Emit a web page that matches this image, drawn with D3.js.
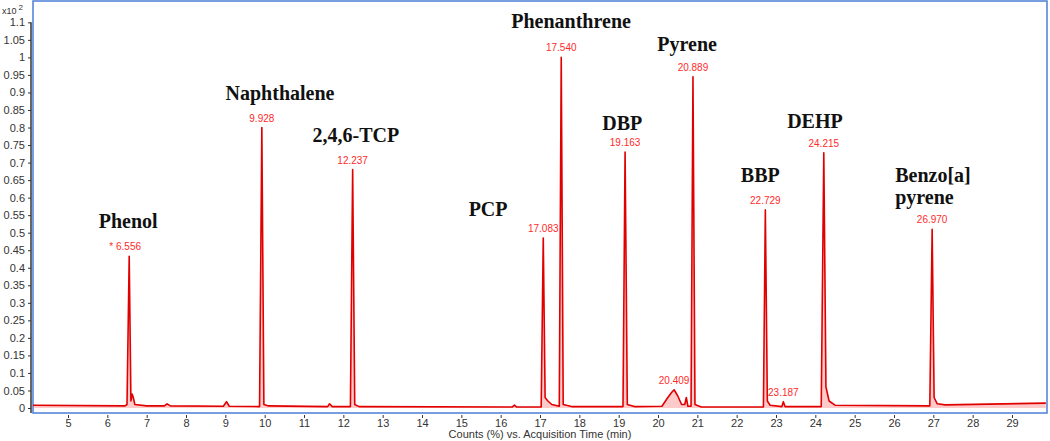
<!DOCTYPE html>
<html>
<head>
<meta charset="utf-8">
<script src="https://cdn.jsdelivr.net/npm/d3@7"></script>
<style>
  body { margin: 0; background: #fff; }
  svg { display: block; }
</style>
</head>
<body>
<div id="chart"></div>
<script>
// --- datos del cromatograma ---
const times = [
  4.11, 6.45, 6.50, 6.556, 6.60, 6.63, 6.66, 6.70, 7.00, 7.45, 7.52, 7.60,
  8.95, 9.03, 9.10, 9.87, 9.928, 9.98, 10.10, 11.60, 11.65, 11.72,
  12.18, 12.237, 12.29, 12.40, 16.30, 16.35, 16.40,
  17.03, 17.083, 17.13, 17.20, 17.30, 17.49, 17.540, 17.59, 17.80,
  19.11, 19.163, 19.22, 19.40, 20.10, 20.25, 20.35, 20.409, 20.50, 20.60,
  20.68, 20.72, 20.76, 20.84, 20.889, 20.94, 21.10,
  22.68, 22.729, 22.78, 22.85, 23.15, 23.187, 23.23,
  24.15, 24.215, 24.27, 24.35, 24.50, 26.91, 26.970, 27.02, 27.10, 27.30, 29.86
];
const counts = [
  0.008, 0.006, 0.010, 0.433, 0.020, 0.040, 0.030, 0.010, 0.006, 0.006, 0.012, 0.006,
  0.005, 0.018, 0.005, 0.004, 0.800, 0.010, 0.006, 0.004, 0.012, 0.004,
  0.004, 0.680, 0.010, 0.004, 0.003, 0.008, 0.003,
  0.003, 0.485, 0.030, 0.020, 0.010, 0.005, 1.000, 0.010, 0.004,
  0.004, 0.730, 0.010, 0.004, 0.005, 0.030, 0.045, 0.052, 0.035, 0.010,
  0.010, 0.030, 0.005, 0.005, 0.945, 0.010, 0.003,
  0.003, 0.565, 0.020, 0.008, 0.004, 0.018, 0.004,
  0.004, 0.728, 0.060, 0.020, 0.008, 0.006, 0.510, 0.030, 0.012, 0.009, 0.014
];

// etiquetas de tiempo de retención (rojo)
const rtLabels = ["* 6.556", "9.928", "12.237", "17.083", "17.540", "19.163", "20.409", "20.889", "22.729", "23.187", "24.215", "26.970"];
const rtTimes  = [6.556, 9.928, 12.237, 17.083, 17.540, 19.163, 20.409, 20.889, 22.729, 23.187, 24.215, 26.970];
const rtHeights = [0.433, 0.800, 0.680, 0.485, 1.000, 0.730, 0.052, 0.945, 0.565, 0.018, 0.728, 0.510];

// nombres de compuestos (los dos últimos alineados a la izquierda)
const compounds = ["Phenol", "Naphthalene", "2,4,6-TCP", "PCP", "Phenanthrene", "Pyrene", "DBP", "BBP", "DEHP", "Benzo[a]", "pyrene"];
const compoundT = [6.53, 10.39, 12.32, 15.68, 17.79, 20.74, 19.09, 22.6, 23.99, 26.03, 26.03];
const compoundV = [0.513, 0.878, 0.759, 0.548, 1.084, 1.018, 0.793, 0.645, 0.799, 0.645, 0.583];

const xTicks = d3.range(5, 30);
const yTicks = d3.range(0, 1.1001, 0.05).map(v => +v.toFixed(2));

const width = 1050, height = 441;
const box = { left: 33, right: 1047, top: 1, bottom: 413 };

const x = d3.scaleLinear().domain([5, 29]).range([68, 1012]);
const y = d3.scaleLinear().domain([0, 1]).range([408, 57.4]);

const svg = d3.select("#chart").append("svg")
  .attr("width", width)
  .attr("height", height);

// marco azul
svg.append("rect")
  .attr("x", box.left).attr("y", box.top)
  .attr("width", box.right - box.left).attr("height", box.bottom - box.top)
  .attr("fill", "none")
  .attr("stroke", "#4a7fd6")
  .attr("stroke-width", 1.5);

// eje Y
const yAxis = svg.append("g")
  .attr("transform", "translate(31,0)")
  .call(d3.axisLeft(y).tickValues(yTicks).tickSize(3).tickFormat(d => d3.format("~g")(d)));
yAxis.select(".domain").attr("stroke", "#333").attr("stroke-width", 1.5).attr("d", `M0,${y(1.1)}V${box.bottom}`);
yAxis.selectAll("line").attr("stroke", "#333");
yAxis.selectAll("text").attr("font-family", "Arial, 'Liberation Sans'").attr("font-size", 11).attr("fill", "#333");

// eje X
const xAxis = svg.append("g")
  .attr("transform", `translate(0,${box.bottom + 2})`)
  .call(d3.axisBottom(x).tickValues(xTicks).tickSize(3).tickFormat(d3.format("d")));
xAxis.select(".domain").remove();
xAxis.selectAll("line").attr("stroke", "#333");
xAxis.selectAll("text").attr("font-family", "Arial, 'Liberation Sans'").attr("font-size", 11).attr("fill", "#333").attr("dy", "0.55em");

svg.append("text")
  .attr("x", 540).attr("y", 438)
  .attr("text-anchor", "middle")
  .attr("font-family", "Arial, 'Liberation Sans'")
  .attr("font-size", 11)
  .attr("fill", "#333")
  .text("Counts (%) vs. Acquisition Time (min)");

// x10^2
const mult = svg.append("text")
  .attr("x", 2).attr("y", 14)
  .attr("font-family", "Arial, 'Liberation Sans'")
  .attr("font-size", 9)
  .attr("fill", "#333");
mult.append("tspan").text("x10");
mult.append("tspan").attr("dx", 2).attr("dy", -4).attr("font-size", 8).text("2");

// traza
const pts = times.map((t, i) => [t, counts[i]]);

svg.append("path")
  .datum(pts)
  .attr("fill", "rgba(255,80,80,0.3)")
  .attr("d", d3.area().x(d => x(d[0])).y0(y(0)).y1(d => y(d[1])));

svg.append("path")
  .datum(pts)
  .attr("fill", "none")
  .attr("stroke", "#e00000")
  .attr("stroke-width", 1.6)
  .attr("stroke-linejoin", "round")
  .attr("d", d3.line().x(d => x(d[0])).y(d => y(d[1])));

// etiquetas rojas
svg.selectAll(".rt")
  .data(rtLabels)
  .enter().append("text")
  .attr("class", "rt")
  .attr("x", (d, i) => x(rtTimes[i]) - (i === 0 ? 4 : 0))
  .attr("y", (d, i) => y(rtHeights[i]) - 6)
  .attr("text-anchor", "middle")
  .attr("font-family", "Arial, 'Liberation Sans'")
  .attr("font-size", 10)
  .attr("fill", "#ff2a2a")
  .text(d => d);

// nombres de compuestos
svg.selectAll(".cmp")
  .data(compounds)
  .enter().append("text")
  .attr("class", "cmp")
  .attr("x", (d, i) => x(compoundT[i]))
  .attr("y", (d, i) => y(compoundV[i]))
  .attr("text-anchor", (d, i) => i >= 9 ? "start" : "middle")
  .attr("font-family", "'Liberation Serif', 'Times New Roman', serif")
  .attr("font-weight", "bold")
  .attr("font-size", 20)
  .attr("fill", "#111")
  .text(d => d);
</script>
</body>
</html>
